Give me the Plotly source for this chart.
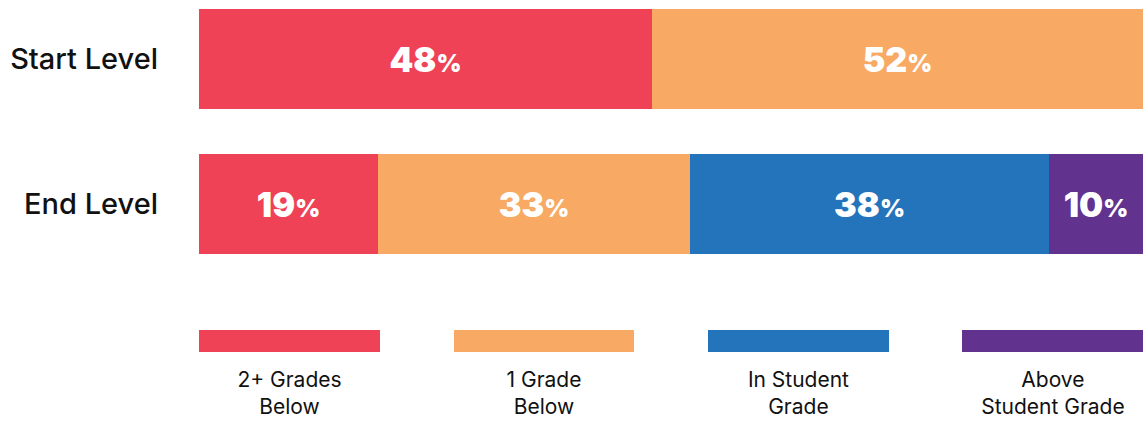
import plotly.graph_objects as go

# Data
levels = ["Start Level", "End Level"]
categories = ["2+ Grades Below", "1 Grade Below", "In Student Grade", "Above Student Grade"]
legend_labels = ["2+ Grades<br>Below", "1 Grade<br>Below", "In Student<br>Grade", "Above<br>Student Grade"]
start_values = [48, 52, 0, 0]
end_values = [19, 33, 38, 10]
colors = ["#F04257", "#F8A963", "#2474BC", "#62328F"]

W, H = 1143, 422
FONT = "Inter, Open Sans, sans-serif"

def pct_label(v):
    if not v:
        return ""
    return f"{v}<span style='font-size:24px'>%</span>"

fig = go.Figure()
ypos = [1, 0]  # Start on top, End below
for i, cat in enumerate(categories):
    vals = [start_values[i], end_values[i]]
    fig.add_trace(go.Bar(
        x=vals, y=ypos, orientation="h", name=cat,
        marker=dict(color=colors[i], line=dict(width=0)),
        width=0.69,
        text=[pct_label(v) for v in vals],
        textposition="inside", insidetextanchor="middle",
        textfont=dict(family=FONT, size=34, color="white", weight=900),
        hoverinfo="skip", showlegend=False,
        xaxis="x", yaxis="y",
    ))

# legend swatches as bars on a second axis
fig.add_trace(go.Bar(
    x=list(range(len(categories))), y=[1] * len(categories),
    marker=dict(color=colors, line=dict(width=0)), width=0.711,
    xaxis="x2", yaxis="y2", showlegend=False, hoverinfo="skip",
))

def py(px):
    return 1 - px / H

fig.update_layout(
    width=W, height=H,
    margin=dict(l=199, r=0, t=0, b=0, autoexpand=False),
    paper_bgcolor="white", plot_bgcolor="white",
    barmode="stack", bargap=0,
    xaxis=dict(range=[0, 100], visible=False, domain=[0, 1], anchor="y", automargin=False),
    yaxis=dict(range=[-0.345, 1.345], domain=[py(254), py(9)],
               tickvals=[0, 1], ticktext=["End Level", "Start Level"],
               showgrid=False, zeroline=False, showline=False, ticks="",
               ticklabelstandoff=40, automargin=False,
               tickfont=dict(family=FONT, size=29, color="#111111", weight=500),
               anchor="x"),
    xaxis2=dict(range=[-0.3556, 3.354], domain=[0, 1], anchor="y2",
                tickvals=list(range(len(categories))), ticktext=legend_labels,
                showgrid=False, zeroline=False, showline=False, ticks="",
                ticklabelstandoff=13, automargin=False,
                tickfont=dict(family=FONT, size=21, color="#111111")),
    yaxis2=dict(range=[0, 1], visible=False, domain=[py(352), py(330)], anchor="x2",
                automargin=False),
)

fig.write_html("out.html", config={"displayModeBar": False},
               post_script="document.body.style.margin='0';")
